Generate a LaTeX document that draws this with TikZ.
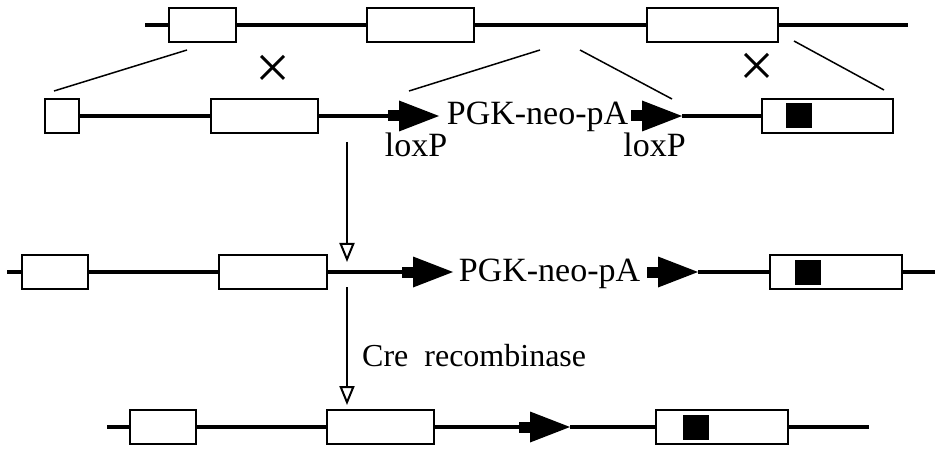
\documentclass[tikz,border=0pt]{standalone}
\usepackage{fontspec}
\setmainfont{Liberation Serif}
\usetikzlibrary{arrows.meta}

\tikzset{
    exon/.style={draw, line width=1.8pt, fill=white, inner sep=0pt, minimum height=34pt},
    blackbox/.style={fill=black, inner sep=0pt, minimum width=26pt, minimum height=25pt},
    dna/.style={line width=4.2pt},
    guide/.style={line width=1.5pt},
    stepdown/.style={line width=2pt, -{Triangle[open, length=19pt, width=15pt, line width=2pt]}},
    seqtext/.style={font=\fontsize{34}{40}\selectfont, inner sep=0pt},
    cretext/.style={font=\fontsize{32}{38}\selectfont, inner sep=0pt},
    cross/.style={font=\fontsize{62}{62}\selectfont, inner sep=0pt},
    loxsite/.pic={
        \fill (-51,-5.5) rectangle (-39,5.5);
        \fill (-40,-15.5) -- (0,0) -- (-40,15.5) -- cycle;
        \coordinate (-tail) at (-51,0);
        \coordinate (-tip) at (0,0);
    }
}

\begin{document}
\begin{tikzpicture}[x=1pt, y=-1pt]
    \useasboundingbox (0,0) rectangle (937,449);

    % wild-type locus
    \coordinate (t0) at (145,25);
    \coordinate (t4) at (908,25);
    \node[exon, minimum width=67pt] (t1) at (202.5,25) {};
    \node[exon, minimum width=107pt] (t2) at (420.5,25) {};
    \node[exon, minimum width=131pt] (t3) at (712.5,25) {};
    \draw[dna] (t0) -- (t1);
    \draw[dna] (t1) -- (t2);
    \draw[dna] (t2) -- (t3);
    \draw[dna] (t3) -- (t4);

    % targeting vector
    \node[exon, minimum width=34pt] (v1) at (62,116) {};
    \node[exon, minimum width=107pt] (v2) at (264.5,116) {};
    \node[exon, minimum width=131pt] (v3) at (827.5,116) {};
    \node[blackbox] (v3m) at (799,116) {};
    \pic (va) at (439,116) {loxsite};
    \pic (vb) at (682,116) {loxsite};
    \draw[dna] (v1) -- (v2);
    \draw[dna] (v2) -- (va-tail);
    \draw[dna] (vb-tip) -- (v3);
    \node[seqtext, anchor=base] (vneo) at (537.5,125) {PGK-neo-pA};
    \node[seqtext, anchor=base] (vla) at (416,157) {loxP};
    \node[seqtext, anchor=base] (vlb) at (654.5,157) {loxP};

    % homologous arms
    \draw[guide] (187,50) -- (54,91);
    \draw[guide] (540,50) -- (409,91);
    \draw[guide] (580,50) -- (672,99);
    \draw[guide] (794,41) -- (884,90);
    \node[cross] (xa) at (273,72) {×};
    \node[cross] (xb) at (757,70) {×};

    % targeted allele
    \coordinate (m0) at (7,272);
    \coordinate (m4) at (935,272);
    \node[exon, minimum width=66pt] (m1) at (55,272) {};
    \node[exon, minimum width=108pt] (m2) at (273,272) {};
    \node[exon, minimum width=132pt] (m3) at (836,272) {};
    \node[blackbox] (m3m) at (808,272) {};
    \pic (ma) at (453,272) {loxsite};
    \pic (mb) at (698,272) {loxsite};
    \draw[dna] (m0) -- (m1);
    \draw[dna] (m1) -- (m2);
    \draw[dna] (m2) -- (ma-tail);
    \draw[dna] (mb-tip) -- (m3);
    \draw[dna] (m3) -- (m4);
    \node[seqtext, anchor=base] (mneo) at (549.5,281) {PGK-neo-pA};

    % deleted allele
    \coordinate (d0) at (107,427);
    \coordinate (d4) at (869,427);
    \node[exon, minimum width=66pt] (d1) at (163,427) {};
    \node[exon, minimum width=107pt] (d2) at (380.5,427) {};
    \node[exon, minimum width=132pt] (d3) at (722,427) {};
    \node[blackbox] (d3m) at (696,427) {};
    \pic (da) at (570,427) {loxsite};
    \draw[dna] (d0) -- (d1);
    \draw[dna] (d1) -- (d2);
    \draw[dna] (d2) -- (da-tail);
    \draw[dna] (da-tip) -- (d3);
    \draw[dna] (d3) -- (d4);

    % steps
    \coordinate (s1a) at (347,142);
    \coordinate (s1b) at (347,262);
    \coordinate (s2a) at (347,287);
    \coordinate (s2b) at (347,405);
    \draw[stepdown] (s1a) -- (s1b);
    \draw[stepdown] (s2a) -- (s2b);
    \node[cretext, anchor=base west] (cre) at (362,366) {Cre\ \ recombinase};
\end{tikzpicture}
\end{document}
